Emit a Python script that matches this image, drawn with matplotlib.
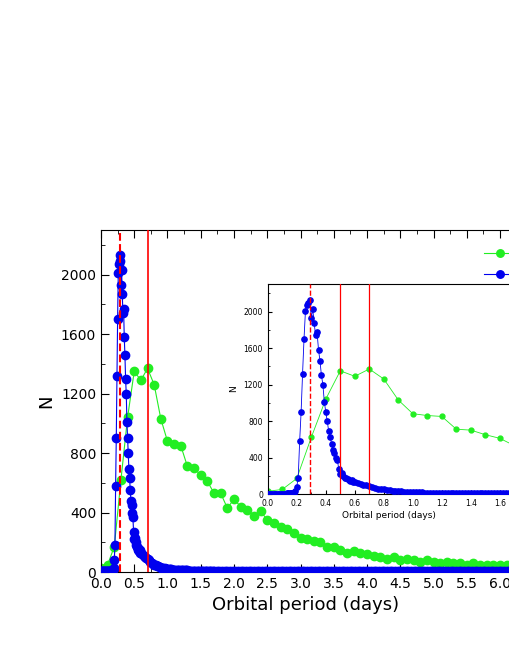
import numpy as np
import matplotlib
matplotlib.use("Agg")
import matplotlib.pyplot as plt

# green series: 0.1-day bins
green_x = np.round(np.arange(0.0, 6.15, 0.1), 2)
green_n = [30, 50, 170, 620, 1040, 1350, 1290, 1370, 1260, 1030,
           880, 860, 850, 710, 700, 650, 610, 530, 530, 430,
           490, 440, 420, 380, 410, 350, 330, 300, 290, 260,
           230, 220, 210, 200, 170, 170, 150, 130, 140, 130,
           120, 110, 100, 90, 100, 80, 90, 80, 70, 80,
           70, 60, 70, 60, 60, 50, 60, 50, 50, 50, 45, 50]

# blue series: fine bins near peak, coarser in tail
blue_x1 = np.round(np.arange(0.0, 0.60, 0.01), 2)
blue_n1 = [5, 5, 5, 5, 5, 5, 5, 5, 5, 5,
           5, 5, 5, 6, 6, 8, 10, 12, 15, 30,
           80, 180, 580, 900, 1320, 1700, 2010, 2070, 2090, 2130,
           1930, 2030, 1870, 1740, 1770, 1580, 1460, 1300, 1200, 1010,
           900, 800, 690, 630, 550, 480, 450, 400, 370, 270,
           220, 230, 200, 180, 170, 160, 150, 140, 150, 130]
blue_x2 = np.round(np.arange(0.60, 1.70, 0.02), 2)
blue_n2 = [130, 120, 110, 100, 95, 85, 80, 70, 60, 55,
           50, 45, 42, 38, 35, 30, 28, 26, 24, 22,
           20, 19, 18, 17, 16, 15, 15, 14, 13, 13,
           12, 12, 12, 11, 11, 11, 10, 10, 10, 10,
           10, 10, 10, 9, 9, 9, 9, 9, 9, 9, 9, 9, 9, 9, 9]
blue_x3 = np.round(np.arange(1.70, 6.16, 0.04), 2)
blue_n3 = [8] * 40 + [7] * 40 + [6] * (len(blue_x3) - 80)
blue_x = np.concatenate([blue_x1, blue_x2, blue_x3])
blue_n = blue_n1 + blue_n2[:len(blue_x2)] + blue_n3

dashed_lines = [0.29]
solid_main = [0.7]
solid_inset = [0.5, 0.7]

fig = plt.figure(figsize=(5.1, 6.6), dpi=100)
ax = fig.add_axes([0.198, 0.1333, 0.802, 0.518])
gc, bc = "#22ee22", "#0000ee"
ax.plot(green_x, green_n, "-o", color=gc, ms=6, lw=0.8, label="A", zorder=2)
ax.plot(blue_x, blue_n, "-o", color=bc, ms=6, lw=0.8, label="B", zorder=3)
for v in dashed_lines:
    ax.axvline(v, color="red", ls="--", lw=1.5, zorder=4)
for v in solid_main:
    ax.axvline(v, color="red", lw=1.2, zorder=4)
ax.set_xlim(0, 6.15)
ax.set_ylim(0, 2300)
ax.set_xticks(np.arange(0, 6.1, 0.5))
ax.set_xticks(np.arange(0, 6.15, 0.25), minor=True)
ax.set_yticks(np.arange(0, 2100, 400))
ax.set_yticks(np.arange(0, 2300, 200), minor=True)
ax.tick_params(which="both", direction="in", top=True, labelsize=10)
ax.tick_params(which="major", length=6)
ax.tick_params(which="minor", length=3)
ax.set_xlabel("Orbital period (days)", fontsize=13)
ax.set_ylabel("N", fontsize=13)
fig.legend(loc="upper left", bbox_to_anchor=(0.925, 0.645), frameon=False,
           labelspacing=0.5, handlelength=2.3, markerscale=0.9)

ins = fig.add_axes([0.525, 0.2515, 0.475, 0.318])
ins.plot(green_x, green_n, "-o", color=gc, ms=3.5, lw=0.6, zorder=2)
ins.plot(blue_x, blue_n, "-o", color=bc, ms=3.8, lw=0.6, zorder=3)
for v in dashed_lines:
    ins.axvline(v, color="red", ls="--", lw=1, zorder=4)
for v in solid_inset:
    ins.axvline(v, color="red", lw=0.9, zorder=4)
ins.set_xlim(0, 1.67)
ins.set_ylim(0, 2300)
ins.set_xticks(np.arange(0, 1.7, 0.2))
ins.set_xticks(np.arange(0, 1.67, 0.1), minor=True)
ins.set_yticks(np.arange(0, 2100, 400))
ins.set_yticks(np.arange(0, 2300, 200), minor=True)
ins.tick_params(which="both", direction="in", labelsize=5.5)
ins.tick_params(which="major", length=3)
ins.tick_params(which="minor", length=1.5)
ins.set_xlabel("Orbital period (days)", fontsize=6.5, labelpad=2)
ins.set_ylabel("N", fontsize=6.5)

fig.savefig("out.png", dpi=100)
